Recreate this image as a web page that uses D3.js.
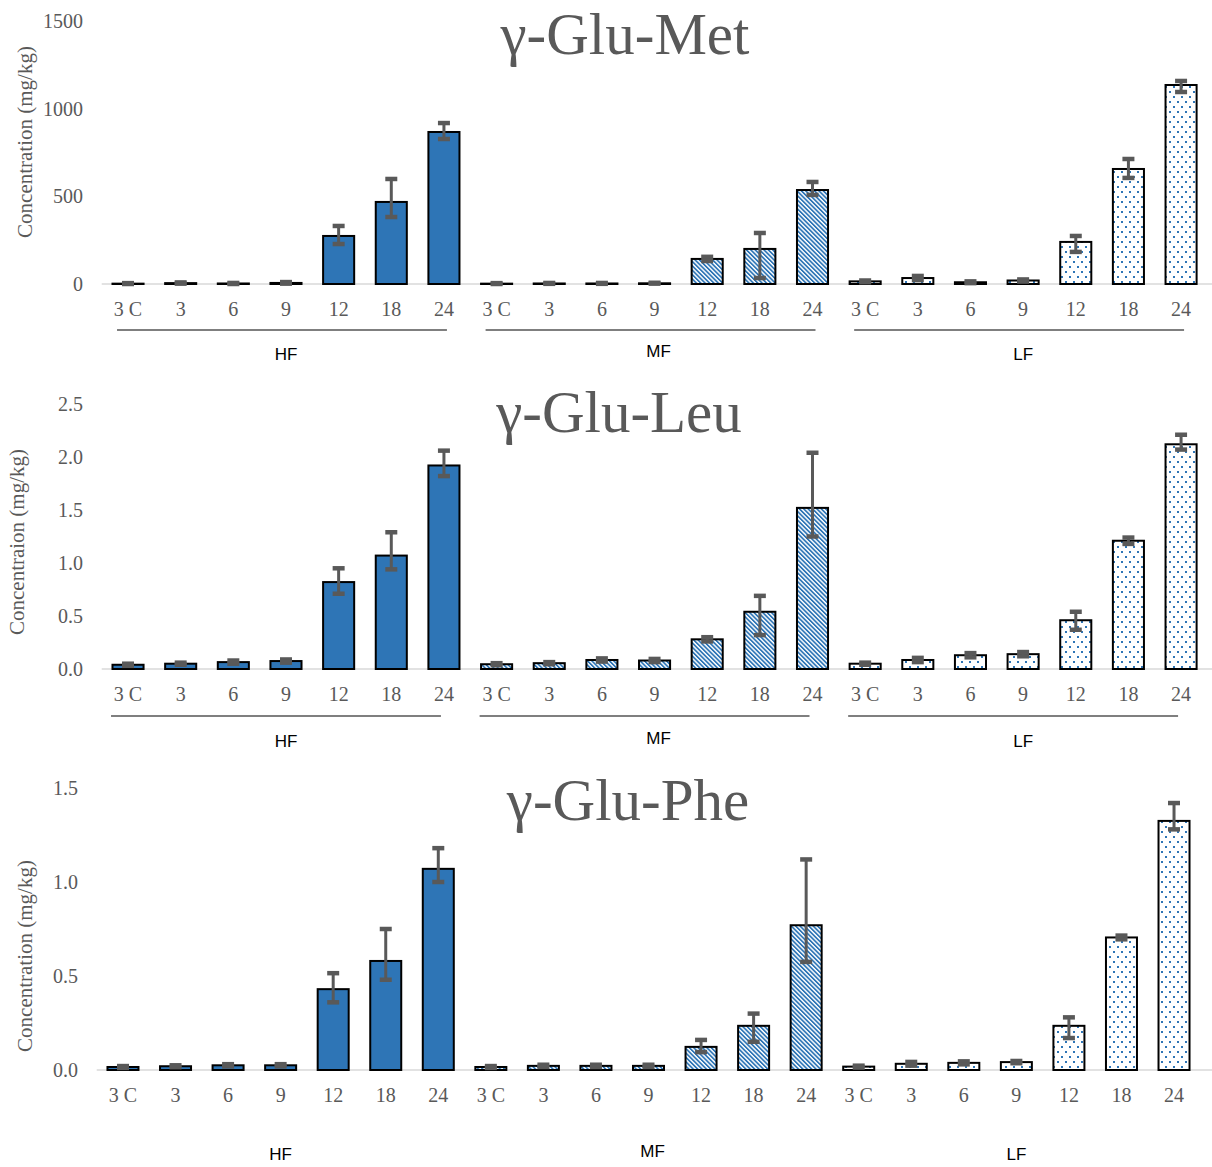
<!DOCTYPE html>
<html>
<head>
<meta charset="utf-8">
<script src="https://d3js.org/d3.v7.min.js"></script>
<style>
  html, body { margin: 0; padding: 0; background: #fff; }
  svg { display: block; }
</style>
<title>γ-Glu peptides</title>
</head>
<body>
<script>
var ww = 1212, hh = 1167;

var weeks = ["3 C", "3", "6", "9", "12", "18", "24"];
var groups = ["HF", "MF", "LF"];

// γ-Glu-Met, order HF(7) MF(7) LF(7)
var metMean  = [2, 5, 3, 6, 274, 468, 867,   2, 3, 3, 4, 143, 200, 536,   15, 34, 10, 20, 240, 656, 1135];
var metPlus  = [3, 4, 3, 5, 57, 131, 51,     3, 3, 3, 3, 12, 91, 46,      5, 12, 5, 6, 34, 57, 23];
var metMinus = [2, 3, 3, 4, 46, 86, 40,      2, 2, 2, 2, 12, 166, 28,     5, 12, 5, 6, 57, 51, 40];

// γ-Glu-Leu
var leuMean  = [0.04, 0.05, 0.065, 0.075, 0.82, 1.07, 1.92,   0.045, 0.055, 0.085, 0.08, 0.28, 0.54, 1.52,   0.05, 0.085, 0.13, 0.14, 0.46, 1.21, 2.12];
var leuPlus  = [0.01, 0.01, 0.015, 0.015, 0.13, 0.22, 0.14,   0.01, 0.01, 0.015, 0.015, 0.02, 0.15, 0.52,    0.01, 0.02, 0.02, 0.02, 0.08, 0.03, 0.09];
var leuMinus = [0.01, 0.01, 0.015, 0.015, 0.11, 0.13, 0.10,   0.01, 0.01, 0.015, 0.015, 0.02, 0.22, 0.27,    0.01, 0.02, 0.02, 0.02, 0.09, 0.03, 0.05];

// γ-Glu-Phe
var pheMean  = [0.016, 0.02, 0.025, 0.025, 0.43, 0.58, 1.07,   0.016, 0.022, 0.022, 0.022, 0.123, 0.235, 0.77,   0.018, 0.033, 0.038, 0.042, 0.235, 0.705, 1.325];
var phePlus  = [0.005, 0.005, 0.006, 0.006, 0.085, 0.17, 0.11, 0.005, 0.006, 0.006, 0.006, 0.037, 0.065, 0.35,  0.005, 0.01, 0.008, 0.006, 0.045, 0.01, 0.095];
var pheMinus = [0.005, 0.005, 0.006, 0.006, 0.07, 0.10, 0.07,  0.005, 0.006, 0.006, 0.006, 0.028, 0.085, 0.195, 0.005, 0.01, 0.008, 0.006, 0.065, 0.01, 0.045];

var blue = "#2e75b6", grey = "#595959";
var serif = "'Liberation Serif', 'Times New Roman', serif";
var sans = "'Liberation Sans', Arial, sans-serif";

var svg = d3.select("body").append("svg").attr("width", ww).attr("height", hh);

// fills: solid for HF, stripes for MF, dots for LF
var defs = svg.append("defs");
var stripes = defs.append("pattern").attr("id", "stripes")
    .attr("patternUnits", "userSpaceOnUse").attr("width", 3.1).attr("height", 3.1)
    .attr("patternTransform", "rotate(-45)");
stripes.append("rect").attr("width", 3.1).attr("height", 3.1).attr("fill", "#fff");
stripes.append("rect").attr("width", 1.7).attr("height", 3.1).attr("fill", blue);

var dots = defs.append("pattern").attr("id", "dots")
    .attr("patternUnits", "userSpaceOnUse").attr("width", 8).attr("height", 10);
dots.append("rect").attr("width", 8).attr("height", 10).attr("fill", "#fff");
dots.append("rect").attr("x", 1).attr("y", 1).attr("width", 2).attr("height", 2).attr("fill", blue);
dots.append("rect").attr("x", 5).attr("y", 6).attr("width", 2).attr("height", 2).attr("fill", blue);

var fills = ["url(#stripes)", "url(#dots)"];
fills.unshift(blue);

var keys = [];
groups.forEach(function(g) {
    weeks.forEach(function(w) { keys.push(g + "|" + w); });
});

function panel(o) {
    var x = d3.scaleBand().domain(keys).range([o.x0, o.x1])
        .paddingInner(0.41).paddingOuter(0.205);
    var y = d3.scaleLinear().domain([0, o.yMax]).range([o.base, o.top]);
    var g = svg.append("g");

    // title
    g.append("text").attr("x", o.titleX).attr("y", o.titleY)
        .attr("text-anchor", "middle").attr("font-family", serif)
        .attr("font-size", 59).attr("fill", grey).text(o.title);

    // y axis (labels only)
    var yAxis = d3.axisLeft(y).tickValues(d3.range(0, o.yMax + 1e-9, o.step))
        .tickFormat(o.fmt).tickSize(0).tickPadding(0);
    var ya = g.append("g").attr("transform", "translate(" + o.yLabelX + ",0)").call(yAxis);
    ya.select(".domain").remove();
    ya.selectAll("text").attr("font-family", serif).attr("font-size", 20).attr("fill", grey);

    g.append("text")
        .attr("transform", "translate(" + o.yTitleX + "," + (o.yTitleY) + ") rotate(-90)")
        .attr("text-anchor", "middle").attr("dominant-baseline", "central")
        .attr("font-family", serif).attr("font-size", 21).attr("fill", grey)
        .text(o.yTitle);

    // baseline
    g.append("line").attr("x1", o.x0).attr("x2", ww).attr("y1", y(0)).attr("y2", y(0))
        .attr("stroke", "#d9d9d9").attr("stroke-width", 1.5);

    // x axis tick labels
    var xAxis = d3.axisBottom(x).tickSize(0).tickPadding(0)
        .tickFormat(function(d) { return d.split("|")[1]; });
    var xa = g.append("g").attr("transform", "translate(0," + (o.base + 32) + ")").call(xAxis);
    xa.select(".domain").remove();
    xa.selectAll("text").attr("font-family", serif).attr("font-size", 20).attr("fill", grey)
        .attr("dy", 0);

    // bars
    g.selectAll("rect.bar").data(o.mean).enter().append("rect").attr("class", "bar")
        .attr("x", function(d, i) { return x(keys[i]); })
        .attr("width", x.bandwidth())
        .attr("y", function(d) { return y(d); })
        .attr("height", function(d) { return y(0) - y(d); })
        .attr("fill", function(d, i) { return fills[Math.floor(i / 7)]; })
        .attr("stroke", "#000").attr("stroke-width", 2);

    // error bars
    var eb = g.selectAll("g.err").data(o.mean).enter().append("g").attr("class", "err")
        .attr("stroke", grey);
    function cx(i) { return x(keys[i]) + x.bandwidth() / 2; }
    eb.append("line")
        .attr("x1", function(d, i) { return cx(i); }).attr("x2", function(d, i) { return cx(i); })
        .attr("y1", function(d, i) { return y(d + o.plus[i]); })
        .attr("y2", function(d, i) { return y(Math.max(0, d - o.minus[i])); })
        .attr("stroke-width", 3);
    eb.append("line")
        .attr("x1", function(d, i) { return cx(i) - 6; }).attr("x2", function(d, i) { return cx(i) + 6; })
        .attr("y1", function(d, i) { return y(d + o.plus[i]); })
        .attr("y2", function(d, i) { return y(d + o.plus[i]); })
        .attr("stroke-width", 4.5);
    eb.append("line")
        .attr("x1", function(d, i) { return cx(i) - 6; }).attr("x2", function(d, i) { return cx(i) + 6; })
        .attr("y1", function(d, i) { return y(Math.max(0, d - o.minus[i])); })
        .attr("y2", function(d, i) { return y(Math.max(0, d - o.minus[i])); })
        .attr("stroke-width", 4.5);

    // group lines and labels
    groups.forEach(function(gr, k) {
        var a = cx(k * 7), b = cx(k * 7 + 6);
        if (o.lineY) {
            g.append("line").attr("x1", a + o.lineA).attr("x2", b + o.lineB)
                .attr("y1", o.lineY).attr("y2", o.lineY)
                .attr("stroke", "#000").attr("stroke-width", 1.2);
        }
        g.append("text").attr("x", (a + b) / 2 + (k == 1 ? 4 : 0))
            .attr("y", o.groupY + (k == 1 ? -3 : 0))
            .attr("text-anchor", "middle").attr("font-family", sans)
            .attr("font-size", 17).attr("fill", "#000").text(gr);
    });
}

panel({
    title: "γ-Glu-Met", titleX: 625, titleY: 54,
    yTitle: "Concentration (mg/kg)", yTitleX: 25, yTitleY: 142,
    mean: metMean, plus: metPlus, minus: metMinus,
    yMax: 1500, step: 500, fmt: d3.format("d"),
    top: 21, base: 284, x0: 101.7, x1: 1207.4, yLabelX: 83,
    lineY: 330, lineA: -11, lineB: 3, groupY: 360
});

panel({
    title: "γ-Glu-Leu", titleX: 619, titleY: 432,
    yTitle: "Concentraion (mg/kg)", yTitleX: 17, yTitleY: 542,
    mean: leuMean, plus: leuPlus, minus: leuMinus,
    yMax: 2.5, step: 0.5, fmt: d3.format(".1f"),
    top: 404, base: 669, x0: 101.7, x1: 1207.4, yLabelX: 83,
    lineY: 716, lineA: -17, lineB: -3, groupY: 747
});

panel({
    title: "γ-Glu-Phe", titleX: 628, titleY: 820,
    yTitle: "Concentration (mg/kg)", yTitleX: 25, yTitleY: 956,
    mean: pheMean, plus: phePlus, minus: pheMinus,
    yMax: 1.5, step: 0.5, fmt: d3.format(".1f"),
    top: 788, base: 1070, x0: 96.7, x1: 1200.3, yLabelX: 78,
    lineY: null, groupY: 1160
});
</script>
</body>
</html>
